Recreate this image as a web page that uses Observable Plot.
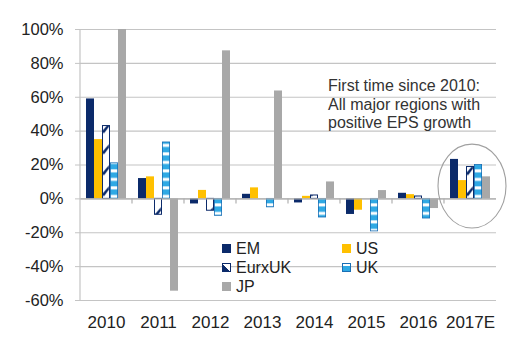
<!DOCTYPE html>
<html>
<head>
<meta charset="utf-8">
<script src="https://cdn.jsdelivr.net/npm/d3@7"></script>
<script src="https://cdn.jsdelivr.net/npm/@observablehq/plot@0.6"></script>
<style>
  body { margin: 0; background: #fff; font-family: "Liberation Sans", Arial, sans-serif; }
  #wrap { position: relative; width: 529px; height: 358px; overflow: hidden; }
  #wrap svg { position: absolute; left: 0; top: 0; }
  .note { position: absolute; left: 328px; top: 77px; font-size: 16px; line-height: 18.6px; color: #333; white-space: nowrap; }
  .leg { position: absolute; font-size: 16px; line-height: 18px; color: #222; white-space: nowrap; }
  .sw { position: absolute; width: 9px; height: 9px; box-sizing: border-box; }
</style>
</head>
<body>
<div id="wrap"></div>
<script>
// ---- data ----
const years = ["2010", "2011", "2012", "2013", "2014", "2015", "2016", "2017E"];
const series = ["EM", "US", "EurxUK", "UK", "JP"];
const emValues     = [59, 12, -3, 2.7, -2.4, -9.2, 3.3, 23.3];
const usValues     = [35, 13, 5, 6.5, 1.5, -6.7, 2.5, 10.8];
const eurxukValues = [43, -9.4, -7, 0, 2, 0, 1.4, 18.8];
const ukValues     = [21, 33.3, -10, -5, -11, -19.2, -11.6, 20];
const jpValues     = [100, -54.5, 87.4, 63.7, 10, 4.9, -5.7, 13];
const yTicks = [-60, -40, -20, 0, 20, 40, 60, 80, 100];
const noteLines = ["First time since 2010:", "All major regions with", "positive EPS growth"];

const valueArrays = [emValues, usValues, eurxukValues, ukValues, jpValues];
const data = [];
years.forEach((year, i) => series.forEach((s, j) => data.push({year, series: s, value: valueArrays[j][i]})));

const NAVY = "#0b2a6a", GOLD = "#ffc000", LBLUE = "#2fa9e4", GRAY = "#a8a8a8", GRID = "#c4c4c4";

const chart = Plot.plot({
  width: 529,
  height: 358,
  marginTop: 29,
  marginBottom: 58,
  marginLeft: 76,
  marginRight: 30,
  style: {fontFamily: "'Liberation Sans', Arial, sans-serif", color: "#222", background: "transparent", overflow: "visible"},
  fx: {domain: years, padding: 0, label: null},
  x: {domain: series, paddingInner: 0, paddingOuter: 0.7, axis: null},
  y: {domain: [-60, 100], label: null},
  color: {domain: series, range: [NAVY, GOLD, "url(#pat-eurx)", "url(#pat-uk)", GRAY]},
  marks: [
    Plot.gridY(yTicks, {stroke: GRID, strokeOpacity: 1, strokeWidth: 1.2}),
    Plot.axisY(yTicks, {tickFormat: d => d + "%", tickSize: 5, tickPadding: 12, stroke: GRID, fontSize: 16.5, label: null}),
    Plot.axisFx({anchor: "bottom", tickSize: 0, tickPadding: 15, fontSize: 17, label: null}),
    Plot.barY(data, {fx: "year", x: "series", y: "value", fill: "series"}),
    Plot.barY(data.filter(d => d.series === "EurxUK" && d.value !== 0), {fx: "year", x: "series", y: "value", fill: "none", stroke: NAVY, strokeWidth: 1, insetLeft: 0.5, insetRight: 0.5}),
    Plot.barY(data.filter(d => d.series === "UK"), {fx: "year", x: "series", y: "value", fill: "none", stroke: "#1a6fb5", strokeWidth: 0.8, insetLeft: 0.4, insetRight: 0.4}),
    Plot.ruleY([0], {stroke: "#b0b0b0", strokeWidth: 1.2})
  ]
});

const svg = d3.select(chart);
const fx = chart.scale("fx"), xs = chart.scale("x"), ys = chart.scale("y");
const fxBand = fx.bandwidth, xStep = xs.bandwidth;

// patterns
const defs = svg.insert("defs", ":first-child");
const pe = defs.append("pattern").attr("id", "pat-eurx").attr("patternUnits", "userSpaceOnUse")
  .attr("x", xs.apply("EurxUK")).attr("y", ys.apply(0)).attr("width", xStep).attr("height", 21);
pe.append("rect").attr("width", xStep).attr("height", 21).attr("fill", "#fff");
pe.append("path").attr("d", `M0,17 L${xStep * 0.85},9 L${xStep * 0.85},12.5 L${xStep * 0.3},18.5 L0,18.5 Z`).attr("fill", NAVY);
const pu = defs.append("pattern").attr("id", "pat-uk").attr("patternUnits", "userSpaceOnUse")
  .attr("x", 0).attr("y", ys.apply(0)).attr("width", 10).attr("height", 8.5);
pu.append("rect").attr("width", 10).attr("height", 8.5).attr("fill", LBLUE);
pu.append("rect").attr("y", 5).attr("width", 10).attr("height", 3).attr("fill", "#fff");

// y axis line
const x0 = fx.apply(years[0]);
svg.append("line").attr("x1", x0).attr("x2", x0).attr("y1", ys.apply(100)).attr("y2", ys.apply(-60))
  .attr("stroke", GRID).attr("stroke-width", 1.2);
// category boundary ticks on zero line
years.slice(1).forEach(y => {
  const xx = fx.apply(y);
  svg.append("line").attr("x1", xx).attr("x2", xx).attr("y1", ys.apply(0)).attr("y2", ys.apply(0) + 5)
    .attr("stroke", "#b0b0b0").attr("stroke-width", 1.2);
});
// highlight ellipse around 2017E
const cx = fx.apply("2017E") + fxBand / 2 + 2;
const yTop = ys.apply(32), yBot = ys.apply(-17.5);
svg.append("ellipse").attr("cx", cx).attr("cy", (yTop + yBot) / 2).attr("rx", 34).attr("ry", (yBot - yTop) / 2)
  .attr("fill", "none").attr("stroke", "#a0a0a0").attr("stroke-width", 1.1);

const wrap = document.getElementById("wrap");
wrap.appendChild(chart);

// annotation
const note = document.createElement("div");
note.className = "note";
note.innerHTML = noteLines.join("<br>");
wrap.appendChild(note);

// legend
const legendItems = [
  {name: "EM", col: 0, row: 0, css: `background:${NAVY};`},
  {name: "US", col: 1, row: 0, css: `background:${GOLD};`},
  {name: "EurxUK", col: 0, row: 1, css: `border:1.2px solid ${NAVY};background:linear-gradient(45deg, ${NAVY} 45%, #fff 45%);`},
  {name: "UK", col: 1, row: 1, css: `border:1.2px solid #1a6fb5;background:linear-gradient(180deg, #fff 0 30%, ${LBLUE} 30%);`},
  {name: "JP", col: 0, row: 2, css: `background:${GRAY};`}
];
const colX = [[222, 236], [342, 356]];
legendItems.forEach(it => {
  const cy = 248 + it.row * 19;
  const sw = document.createElement("div");
  sw.className = "sw";
  sw.style.cssText = `left:${colX[it.col][0]}px;top:${cy - 4.5}px;` + it.css;
  wrap.appendChild(sw);
  const t = document.createElement("div");
  t.className = "leg";
  t.style.left = colX[it.col][1] + "px";
  t.style.top = (cy - 8.5) + "px";
  t.textContent = it.name;
  wrap.appendChild(t);
});
</script>
</body>
</html>
